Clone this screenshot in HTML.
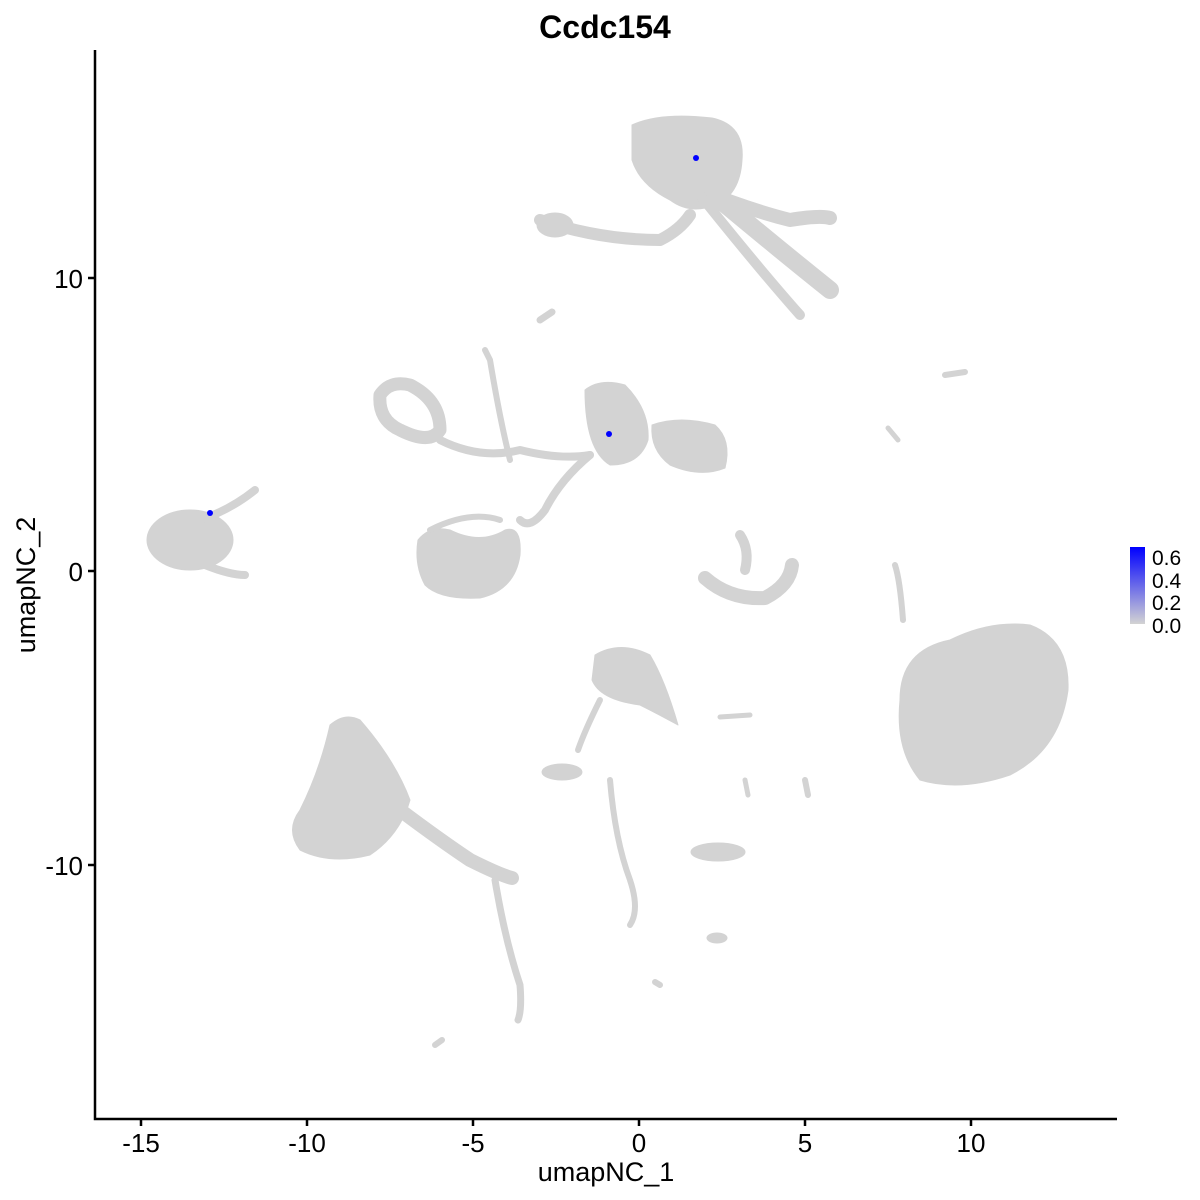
<!DOCTYPE html>
<html><head><meta charset="utf-8"><style>
html,body{margin:0;padding:0;background:#fff}
svg{display:block;font-family:"Liberation Sans",sans-serif}
</style></head><body>
<svg width="1200" height="1200" viewBox="0 0 1200 1200">
<defs><linearGradient id="g" x1="0" y1="1" x2="0" y2="0"><stop offset="0" stop-color="#d3d3d3"/><stop offset="1" stop-color="#0000ff"/></linearGradient></defs>
<text x="605" y="38" text-anchor="middle" font-size="32" font-weight="bold">Ccdc154</text>
<g fill="#d3d3d3" stroke="#d3d3d3" stroke-linecap="round" stroke-linejoin="round">
<path d="M632 125 Q660 112 712 118 Q745 125 742 160 Q740 195 715 205 Q690 215 670 200 Q640 185 632 160 Z"/>
<path d="M700 190 Q750 210 790 220 Q820 215 830 218" fill="none" stroke-width="14"/>
<path d="M720 200 Q780 250 830 290" fill="none" stroke-width="18"/>
<path d="M700 195 Q760 270 800 315" fill="none" stroke-width="10"/>
<path d="M540 220 Q600 240 660 240 Q680 230 690 215" fill="none" stroke-width="12"/>
<ellipse cx="555" cy="225" rx="18" ry="12"/>
<path d="M540 320 L552 312" fill="none" stroke-width="7"/>
<ellipse cx="190" cy="540" rx="43" ry="30"/>
<path d="M200 520 Q230 510 255 490" fill="none" stroke-width="8"/>
<path d="M205 565 Q230 575 245 575" fill="none" stroke-width="8"/>
<path d="M380 395 Q390 380 410 385 Q440 400 440 430 Q430 445 400 430 Q378 420 380 395 Z" fill="none" stroke-width="13"/>
<path d="M440 440 Q480 460 520 450 Q560 460 590 455" fill="none" stroke-width="8"/>
<path d="M485 350 L490 360 Q500 420 510 460" fill="none" stroke-width="6"/>
<path d="M585 390 Q600 378 625 385 Q650 410 648 440 Q640 465 610 465 Q585 450 585 390 Z"/>
<path d="M652 425 Q680 415 715 425 Q732 440 725 468 Q700 478 670 465 Q650 450 652 425 Z"/>
<path d="M590 455 Q560 480 545 510 Q530 530 520 520" fill="none" stroke-width="8"/>
<path d="M418 540 Q430 525 450 530 Q480 545 505 530 Q522 525 520 555 Q515 590 480 598 Q440 600 425 585 Q414 565 418 540 Z"/>
<path d="M430 530 Q470 510 500 520" fill="none" stroke-width="6"/>
<path d="M705 578 Q730 600 765 598 Q790 585 792 565" fill="none" stroke-width="14"/>
<path d="M740 535 Q750 550 745 570" fill="none" stroke-width="10"/>
<path d="M895 565 Q900 580 903 620" fill="none" stroke-width="6"/>
<path d="M900 700 Q900 650 950 640 Q990 620 1030 625 Q1070 640 1068 690 Q1060 750 1010 775 Q960 792 920 780 Q895 750 900 700 Z"/>
<path d="M595 655 Q620 640 650 655 Q665 680 678 725 Q660 715 640 705 Q600 700 592 680 Z"/>
<path d="M600 700 Q585 730 578 750" fill="none" stroke-width="6"/>
<ellipse cx="562" cy="772" rx="20" ry="8"/>
<path d="M610 780 Q615 840 630 880 Q640 910 630 925" fill="none" stroke-width="6"/>
<ellipse cx="718" cy="852" rx="27" ry="9"/>
<ellipse cx="717" cy="938" rx="10" ry="5"/>
<path d="M330 725 Q345 712 360 720 Q395 760 410 800 Q400 835 370 855 Q330 865 300 850 Q285 830 300 810 Q320 770 330 725 Z"/>
<path d="M400 810 Q440 840 470 860 Q500 875 512 878" fill="none" stroke-width="14"/>
<path d="M495 880 Q505 940 520 985 Q522 1010 518 1020" fill="none" stroke-width="7"/>
<path d="M435 1045 L442 1040" fill="none" stroke-width="6"/>
<path d="M655 982 L660 985" fill="none" stroke-width="6"/>
<path d="M945 375 L965 372" fill="none" stroke-width="6"/>
<path d="M888 428 L898 440" fill="none" stroke-width="5"/>
<path d="M720 717 L750 715" fill="none" stroke-width="5"/>
<path d="M805 780 L808 795" fill="none" stroke-width="6"/>
<path d="M745 780 L748 795" fill="none" stroke-width="5"/>
</g>
<circle cx="696" cy="158" r="3" fill="#0000ff"/>
<circle cx="609" cy="434" r="3" fill="#0000ff"/>
<circle cx="210" cy="513" r="3" fill="#0000ff"/>
<g stroke="#000" stroke-width="2.5" fill="none">
<path d="M95 50 V1119 H1117"/>
<path d="M88 278 H95 M88 571 H95 M88 865 H95"/>
<path d="M141 1119 V1126 M307 1119 V1126 M473 1119 V1126 M639 1119 V1126 M805 1119 V1126 M971 1119 V1126"/>
</g>
<g font-size="26" fill="#000">
<text x="83" y="288" text-anchor="end">10</text>
<text x="83" y="581" text-anchor="end">0</text>
<text x="83" y="875" text-anchor="end">-10</text>
<g text-anchor="middle">
<text x="141" y="1152">-15</text><text x="307" y="1152">-10</text><text x="473" y="1152">-5</text>
<text x="639" y="1152">0</text><text x="805" y="1152">5</text><text x="971" y="1152">10</text>
</g>
<text x="606" y="1181" font-size="27" text-anchor="middle">umapNC_1</text>
<text transform="translate(35,585) rotate(-90)" font-size="27" text-anchor="middle">umapNC_2</text>
</g>
<rect x="1130" y="547" width="15" height="77" fill="url(#g)"/>
<g font-size="21" fill="#000">
<text x="1152" y="565">0.6</text><text x="1152" y="588">0.4</text>
<text x="1152" y="610">0.2</text><text x="1152" y="633">0.0</text>
</g>
</svg>
</body></html>
